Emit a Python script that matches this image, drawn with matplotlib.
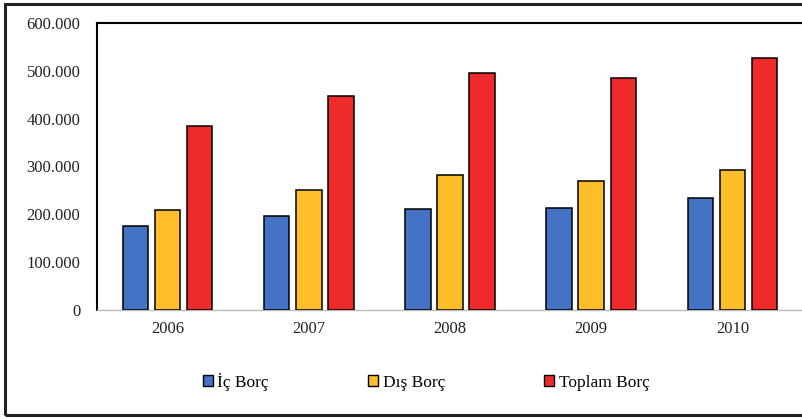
import numpy as np
import matplotlib
matplotlib.use("Agg")
import matplotlib.pyplot as plt
from matplotlib.patches import Patch, Rectangle
from matplotlib.ticker import FuncFormatter

plt.rcParams['font.family'] = ['Liberation Serif', 'DejaVu Serif']

# --- data (bin TL) ---
years = ["2006", "2007", "2008", "2009", "2010"]
ic_borc = [176, 197, 212, 214, 234]
dis_borc = [209, 250, 282, 270, 292]
toplam_borc = [385, 447, 495, 484, 527]
series_names = ["İç Borç", "Dış Borç", "Toplam Borç"]
colors = ["#4472C4", "#FDBE2A", "#EE2A2A"]

fig = plt.figure(figsize=(8.03, 4.18), dpi=100)
ax = fig.add_axes([97 / 803, 1 - 310 / 418, 1 - 97 / 803 + 0.01, (310 - 23) / 418])

x = np.arange(len(years))
w = 0.18
step = 0.227
for i, vals in enumerate([ic_borc, dis_borc, toplam_borc]):
    ax.bar(x + (i - 1) * step, np.array(vals) * 1000, width=w, color=colors[i],
           edgecolor="black", linewidth=1.1, label=series_names[i], zorder=3)

ax.set_xlim(-0.5, len(years) - 0.5 + 0.01 * 5 / 0.88)
ax.set_ylim(0, 600000)
ax.set_yticks(range(0, 600001, 100000))
ax.yaxis.set_major_formatter(FuncFormatter(lambda v, p: f"{int(v):,}".replace(",", ".")))
ax.set_xticks(x)
ax.set_xticklabels(years)
ax.tick_params(axis="both", length=0, labelsize=12, colors="#222222")
ax.tick_params(axis="y", pad=12)
ax.tick_params(axis="x", pad=8)

ax.spines["right"].set_visible(False)
ax.spines["left"].set_color("black")
ax.spines["left"].set_linewidth(1.5)
ax.spines["top"].set_color("black")
ax.spines["top"].set_linewidth(1.5)
ax.spines["bottom"].set_color("#BBBBBB")
ax.spines["bottom"].set_linewidth(1.0)

handles = [Patch(facecolor=c, edgecolor="black", linewidth=1.0) for c in colors]
fig.legend(handles, series_names, loc="center", bbox_to_anchor=(426 / 803, 1 - 382 / 418),
           ncol=3, frameon=False, fontsize=12.5, handlelength=0.6, handleheight=0.6,
           handletextpad=0.25, columnspacing=5.7)

# outer frame of the picture
fig.patches.append(Rectangle((5.5 / 803, 3 / 418), 1.2, 1 - 7 / 418, transform=fig.transFigure,
                             fill=False, edgecolor="#222222", linewidth=2.2))

fig.savefig("out.png", dpi=100)
